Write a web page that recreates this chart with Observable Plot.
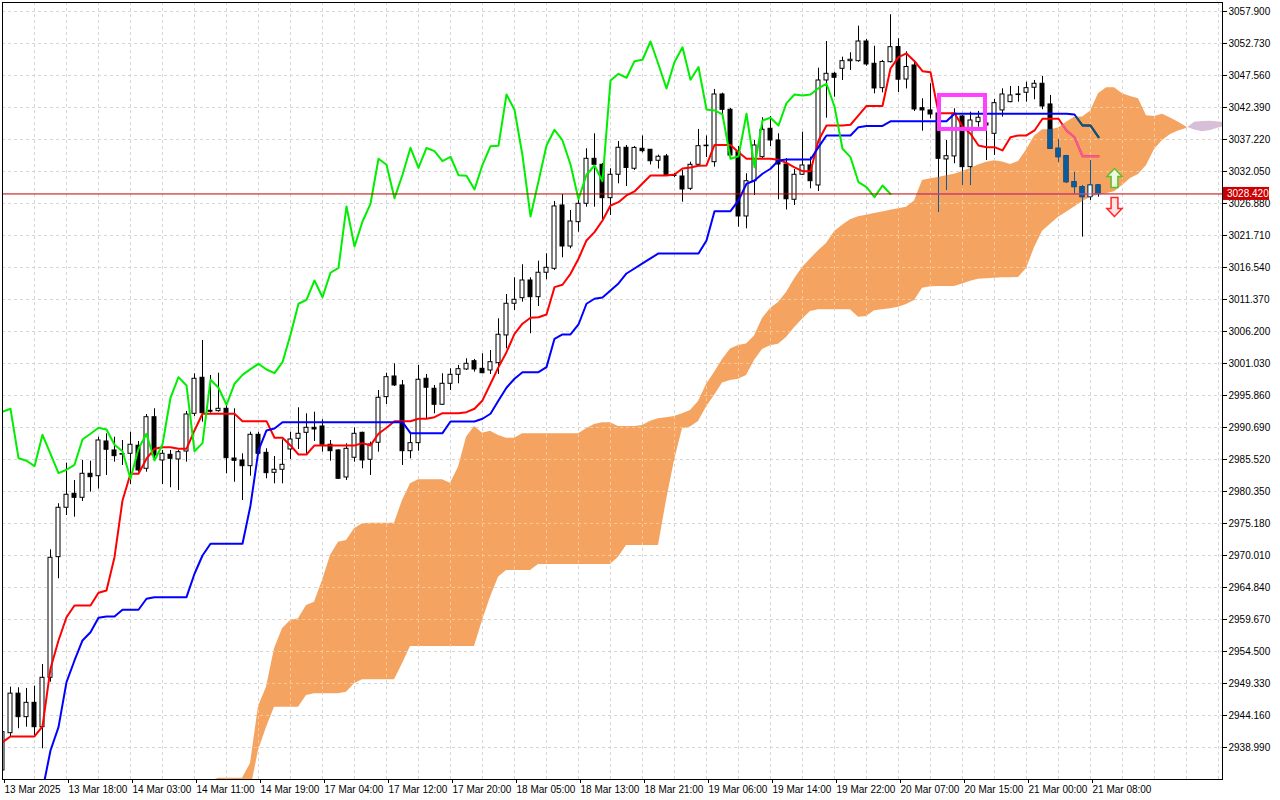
<!DOCTYPE html>
<html><head><meta charset="utf-8">
<script src="https://cdn.jsdelivr.net/npm/d3@7"></script>
<script src="https://cdn.jsdelivr.net/npm/@observablehq/plot@0.6"></script>
<style>
html,body{margin:0;padding:0;background:#fff;}
#chart{position:absolute;left:0;top:0;}
</style></head><body><div id="chart"></div>
<script>
// ---- candles (hourly bars, XAUUSD H1) ----
const openP = [2935.28,2941.30,2947.69,2943.89,2946.21,2942.27,2950.25,2969.74,2977.72,2979.98,2979.33,2983.21,2982.82,2988.43,2986.98,2986.30,2986.44,2987.74,2984.02,2992.35,2985.36,2986.28,2985.52,2986.81,2992.90,2998.72,2993.39,2993.33,2993.71,2985.68,2985.36,2984.44,2989.51,2986.60,2983.37,2983.86,2987.14,2988.86,2989.83,2990.64,2990.85,2987.90,2986.98,2982.61,2985.80,2989.83,2985.47,2988.22,2995.59,2998.93,2997.48,2986.86,2988.16,2998.56,2996.95,2994.36,2997.75,2999.20,3000.06,3001.40,3000.17,2999.90,3001.08,3005.56,3010.68,3011.58,3014.44,3011.74,3015.69,3016.33,3026.56,3019.93,3023.86,3026.83,3034.10,3033.13,3027.74,3031.52,3035.88,3032.49,3035.72,3035.56,3033.78,3034.48,3031.40,3031.24,3029.25,3033.13,3036.14,3033.55,3044.49,3042.02,3035.17,3024.78,3030.48,3034.36,3038.95,3037.06,3033.18,3027.48,3031.52,3033.02,3029.79,3046.75,3047.83,3048.64,3049.87,3049.87,3053.05,3049.45,3045.51,3049.71,3052.16,3046.91,3049.18,3042.28,3041.91,3041.42,3033.99,3034.48,3040.94,3032.75,3040.02,3039.81,3038.14,3041.91,3043.25,3044.41,3044.77,3045.58,3046.22,3042.88,3035.72,3034.52,3030.32,3029.52,3027.90,3029.79];
const highP = [2942.06,2948.74,2948.64,2948.53,2948.90,2952.40,2970.93,2978.37,2984.93,2982.13,2985.36,2985.25,2989.12,2989.67,2989.12,2988.59,2989.93,2988.43,2992.79,2993.71,2986.98,2986.98,2986.98,2993.28,2999.37,3004.75,2999.09,2999.46,2994.25,2993.71,2986.44,2989.93,2989.93,2987.25,2986.01,2988.70,2989.93,2993.87,2992.90,2993.16,2991.94,2988.59,2987.10,2988.06,2990.64,2989.93,2988.32,2996.67,2999.46,3000.98,2998.29,2989.67,3000.71,2999.26,2997.48,2999.37,3000.17,3000.71,3001.79,3001.68,3002.60,3003.13,3008.25,3012.18,3014.88,3016.98,3014.88,3017.56,3018.76,3027.21,3028.33,3025.75,3028.17,3035.72,3038.14,3033.34,3032.49,3036.90,3036.25,3036.09,3037.79,3035.60,3034.69,3034.80,3031.73,3032.21,3033.55,3038.84,3037.79,3045.30,3044.70,3042.23,3036.09,3031.68,3037.06,3040.73,3040.94,3038.14,3034.15,3032.37,3038.40,3034.36,3048.74,3053.05,3048.09,3050.52,3051.23,3055.53,3053.38,3052.29,3049.99,3057.37,3053.49,3051.39,3049.66,3043.80,3046.22,3041.91,3037.06,3042.18,3041.10,3041.63,3041.75,3041.59,3043.69,3045.41,3045.79,3045.79,3046.48,3046.75,3047.40,3044.33,3037.17,3034.64,3031.84,3029.79,3033.83,3029.85];
const lowP = [2934.96,2940.66,2942.02,2942.27,2940.93,2938.78,2949.54,2966.25,2976.47,2976.20,2978.74,2980.24,2980.75,2982.94,2985.09,2984.55,2981.48,2983.47,2983.47,2985.36,2981.48,2980.95,2980.51,2985.09,2992.47,2991.55,2993.00,2993.16,2983.21,2981.85,2978.90,2982.82,2986.17,2982.40,2981.59,2981.59,2985.52,2987.14,2986.44,2988.43,2986.70,2985.25,2982.30,2982.13,2985.09,2984.02,2982.94,2986.70,2994.41,2997.32,2984.55,2985.63,2986.86,2992.09,2992.90,2994.25,2996.67,2997.75,2999.90,2999.63,2999.37,2999.26,2999.26,3003.41,3009.59,3010.94,3005.83,3010.24,3014.55,3016.06,3018.11,3019.56,3022.24,3026.28,3026.28,3024.13,3024.94,3030.06,3029.63,3032.21,3035.04,3033.10,3032.45,3031.36,3031.08,3027.09,3028.98,3032.91,3034.31,3032.75,3040.56,3034.15,3023.05,3022.79,3028.17,3034.10,3036.09,3027.48,3025.83,3026.56,3031.40,3029.25,3028.82,3040.66,3044.05,3046.75,3048.37,3049.71,3049.06,3044.60,3044.76,3049.58,3044.81,3045.38,3041.74,3038.56,3040.56,3025.47,3028.98,3033.30,3029.79,3029.79,3039.21,3033.83,3034.64,3040.83,3043.15,3043.25,3043.25,3043.64,3042.02,3035.60,3033.56,3030.16,3028.45,3021.44,3027.37,3027.90];
const closeP = [2941.47,2947.69,2943.89,2946.21,2942.27,2950.25,2969.64,2977.72,2979.82,2979.33,2983.21,2982.66,2988.59,2987.09,2986.06,2986.40,2987.90,2983.75,2992.35,2986.17,2986.44,2985.63,2986.70,2992.79,2998.56,2993.00,2993.23,2993.71,2985.73,2985.31,2984.44,2989.51,2986.44,2983.31,2983.86,2984.66,2988.75,2989.67,2990.64,2990.37,2987.90,2986.86,2982.40,2987.25,2989.67,2985.36,2987.95,2995.49,2998.82,2997.48,2986.86,2988.16,2998.40,2997.11,2994.36,2997.75,2999.20,3000.11,3000.98,3000.06,2999.46,3001.24,3005.67,3010.68,3011.32,3014.44,3011.74,3015.69,3016.49,3026.40,3019.93,3023.97,3026.83,3034.10,3033.13,3027.74,3031.52,3035.88,3032.62,3035.85,3035.33,3033.71,3034.43,3031.45,3031.36,3029.14,3033.13,3036.14,3036.22,3044.49,3042.02,3034.63,3024.78,3030.48,3036.25,3038.79,3037.06,3033.18,3027.56,3031.52,3033.02,3030.48,3046.75,3047.83,3047.19,3049.87,3050.10,3053.05,3049.34,3045.46,3049.74,3052.13,3046.88,3048.93,3042.07,3041.91,3041.26,3034.10,3034.52,3041.38,3032.75,3040.29,3040.73,3039.48,3043.09,3044.49,3044.33,3044.49,3045.51,3046.22,3042.55,3035.72,3034.36,3030.32,3029.52,3027.90,3029.79,3028.42];

// ---- Ichimoku lines (read per bar) ----
const tenkanSen = [2939.85,2940.77,2940.77,2940.77,2940.77,2942.39,2951.76,2956.28,2960.04,2961.94,2961.94,2961.94,2963.99,2964.36,2969.74,2978.90,2983.21,2983.21,2985.64,2987.25,2987.51,2987.51,2987.25,2987.25,2990.21,2992.91,2992.91,2992.91,2992.91,2992.91,2991.71,2991.71,2991.71,2991.71,2989.03,2989.03,2987.79,2986.33,2986.33,2987.79,2987.79,2987.79,2987.79,2987.79,2987.79,2988.16,2987.79,2989.68,2990.65,2991.71,2991.71,2991.71,2992.10,2992.10,2992.36,2993.00,2993.00,2993.00,2993.17,2993.72,2995.06,2997.75,3000.44,3002.86,3005.83,3007.45,3008.42,3008.51,3008.95,3013.36,3013.75,3015.52,3017.95,3020.91,3022.25,3024.14,3026.56,3027.09,3028.18,3028.82,3030.11,3031.41,3031.41,3031.41,3031.57,3032.54,3032.70,3032.97,3033.02,3036.33,3036.33,3036.33,3035.17,3034.11,3034.11,3034.11,3034.11,3033.94,3033.43,3032.70,3032.10,3032.10,3037.06,3039.48,3039.48,3039.48,3039.60,3041.10,3042.64,3042.64,3042.64,3048.69,3050.52,3051.12,3049.86,3048.26,3048.10,3041.47,3041.47,3041.47,3039.32,3038.14,3036.25,3035.98,3035.98,3035.45,3037.59,3037.87,3037.87,3038.68,3040.57,3040.57,3040.57,3038.68,3037.59,3034.52,3034.52,3034.52];
const kijunSen = [2929.62,2929.62,2929.62,2929.62,2929.62,2932.05,2938.51,2942.27,2949.54,2953.05,2956.28,2957.62,2959.95,2960.16,2960.16,2961.24,2961.24,2961.24,2963.02,2963.28,2963.28,2963.28,2963.28,2963.28,2967.06,2970.01,2971.90,2971.90,2971.90,2971.90,2971.90,2978.09,2986.98,2990.21,2990.53,2991.55,2991.55,2991.55,2991.55,2991.55,2991.55,2991.55,2991.55,2991.55,2991.55,2991.55,2991.55,2991.55,2991.55,2991.55,2991.55,2989.77,2989.77,2989.77,2989.77,2989.77,2991.66,2991.66,2991.66,2991.66,2992.10,2992.91,2995.06,2997.11,2998.56,2999.63,2999.63,2999.63,3000.44,3005.02,3005.72,3005.72,3007.33,3010.68,3011.49,3011.70,3012.83,3013.96,3015.57,3016.38,3017.19,3018.00,3018.81,3018.81,3018.81,3018.81,3018.81,3018.81,3020.91,3025.64,3025.64,3025.64,3027.37,3030.07,3030.60,3031.68,3032.49,3033.83,3033.99,3033.99,3033.99,3033.99,3035.98,3037.87,3037.87,3037.87,3037.87,3039.21,3039.40,3039.40,3039.40,3040.16,3040.16,3040.16,3040.16,3040.16,3040.16,3040.16,3040.16,3041.38,3041.38,3041.38,3041.38,3041.38,3041.38,3041.38,3041.38,3041.38,3041.38,3041.38,3041.38,3041.38,3041.38,3041.38,3041.26,3039.48,3039.48,3037.59];
const chikouShift = 26;

// ---- Kumo (senkou spans), first value at bar cloudStart ----
const cloudStart = 26;
const senkouA = [2933.50,2934.03,2934.03,2934.03,2934.03,2936.41,2945.62,2948.74,2954.94,2958.17,2959.51,2959.79,2961.94,2962.47,2965.98,2970.01,2972.16,2972.44,2974.33,2975.14,2975.23,2975.23,2975.23,2975.23,2978.90,2981.60,2982.24,2982.24,2982.24,2982.24,2981.70,2984.28,2989.13,2990.86,2989.77,2990.10,2989.40,2988.97,2988.97,2989.68,2989.68,2989.68,2989.68,2989.68,2989.68,2989.68,2989.68,2990.48,2991.18,2991.45,2991.45,2990.86,2990.86,2990.86,2991.02,2991.71,2992.10,2992.26,2992.47,2992.91,2993.44,2994.89,2997.64,2999.58,3001.68,3003.38,3003.94,3004.17,3005.48,3008.30,3009.92,3010.89,3012.50,3014.69,3016.54,3017.92,3019.24,3020.42,3022.31,3023.38,3024.27,3024.73,3024.99,3025.25,3025.51,3025.78,3026.03,3026.29,3027.27,3030.60,3030.87,3031.08,3031.36,3031.62,3032.05,3032.54,3033.09,3033.54,3033.78,3033.59,3033.18,3033.67,3035.53,3037.76,3038.79,3038.79,3039.08,3040.02,3040.83,3040.87,3041.80,3044.61,3045.59,3045.59,3044.59,3044.17,3043.81,3041.05,3040.92,3041.28,3040.71,3040.00,3039.24,3038.76,3038.47,3038.68,3039.08,3039.32];
const senkouB = [2932.05,2932.05,2932.05,2932.05,2932.05,2932.05,2938.51,2942.23,2945.51,2945.51,2945.51,2945.51,2947.40,2947.67,2947.67,2947.67,2947.67,2947.93,2949.29,2949.93,2949.93,2949.93,2949.93,2949.93,2952.52,2955.31,2955.31,2955.31,2955.31,2955.31,2955.31,2955.31,2955.31,2955.31,2959.51,2963.28,2966.51,2967.59,2967.59,2967.59,2967.59,2968.56,2968.56,2968.56,2968.56,2968.56,2968.56,2968.56,2968.56,2968.56,2968.56,2969.74,2971.63,2971.63,2971.63,2971.63,2971.63,2978.90,2985.36,2990.48,2990.77,2991.66,2994.01,2995.86,2997.88,2998.29,2998.50,2999.09,3001.52,3003.30,3003.89,3004.15,3005.23,3006.82,3008.19,3009.43,3009.71,3009.71,3009.71,3009.71,3009.71,3008.48,3008.63,3009.56,3009.71,3009.87,3010.13,3010.57,3011.20,3013.20,3013.44,3013.47,3013.47,3013.47,3013.86,3014.31,3014.62,3014.72,3014.80,3014.88,3014.88,3014.93,3016.38,3019.71,3022.39,3023.54,3024.67,3025.46,3026.30,3027.22,3027.85,3028.27,3028.47,3028.77,3029.79,3030.92,3031.57,3033.02,3035.61,3037.06,3038.03,3038.60,3039.00,3040.00,3040.13,3040.18,3040.05,3039.97];
const bullishUntil = 148;

// ---- axes ----
const xTickIdx = [0,8,16,24,32,40,48,56,64,72,80,88,96,104,112,120,128,136];
const xTickLabels = ["13 Mar 2025","13 Mar 18:00","14 Mar 03:00","14 Mar 11:00","14 Mar 19:00","17 Mar 04:00","17 Mar 12:00","17 Mar 20:00","18 Mar 05:00","18 Mar 13:00","18 Mar 21:00","19 Mar 06:00","19 Mar 14:00","19 Mar 22:00","20 Mar 07:00","20 Mar 15:00","21 Mar 00:00","21 Mar 08:00"];
const yTicks = [3057.900,3052.730,3047.560,3042.390,3037.220,3032.050,3026.880,3021.710,3016.540,3011.370,3006.200,3001.030,2995.860,2990.690,2985.520,2980.350,2975.180,2970.010,2964.840,2959.670,2954.500,2949.330,2944.160,2938.990];
const lastPrice = 3028.420;

// ---- annotations ----
const zoneIdx = [117.125, 122.875];
const zonePrice = [3044.33, 3038.84];
const arrowIdx = [139, 139];
const arrowPrice = [3031.0, 3026.3];
const arrowDir = ["up", "down"];

// ---- tables ----
const candles = openP.map((o, i) => ({i, o, h: highP[i], l: lowP[i], c: closeP[i]}));
const tenkanRows = tenkanSen.map((v, i) => ({i, v}));
const kijunRows = kijunSen.map((v, i) => ({i, v}));
const chikouRows = closeP.slice(chikouShift).map((v, k) => ({i: k, v}));
const cloud = senkouA.map((a, k) => ({i: cloudStart + k, a, b: senkouB[k]}));
const cloudBull = cloud.filter(d => d.i <= bullishUntil);
const cloudBear = cloud.filter(d => d.i >= bullishUntil);
const zone = [{x1: zoneIdx[0], x2: zoneIdx[1], y1: zonePrice[0], y2: zonePrice[1]}];
const arrows = arrowIdx.map((x, k) => ({x, y: arrowPrice[k], dir: arrowDir[k]}));
const labelMap = new Map(xTickIdx.map((d, k) => [d, xTickLabels[k]]));

const bodyTop = d => Math.abs(d.o - d.c) < 0.1 ? (d.o + d.c) / 2 + 0.05 : Math.max(d.o, d.c);
const bodyBot = d => Math.abs(d.o - d.c) < 0.1 ? (d.o + d.c) / 2 - 0.05 : Math.min(d.o, d.c);
const gridX = d3.range(4, 153, 4);

// hollow arrow symbols
function arrowSymbol(sign) {
  return {draw(ctx, size) {
    const s = Math.sqrt(size / Math.PI);
    const w = 0.8 * s, t = 0.36 * s, n = -0.15 * s;
    ctx.moveTo(0, -sign * s);
    ctx.lineTo(w, sign * n);
    ctx.lineTo(t, sign * n);
    ctx.lineTo(t, sign * s);
    ctx.lineTo(-t, sign * s);
    ctx.lineTo(-t, sign * n);
    ctx.lineTo(-w, sign * n);
    ctx.closePath();
  }};
}
const upSym = arrowSymbol(1), downSym = arrowSymbol(-1);

const IN = "incloud";
function candleMarks(color, tag) {
  const extra = tag ? {ariaDescription: tag} : {clip: true};
  return [
    Plot.ruleX(candles, {x: "i", y1: "l", y2: "h", stroke: color, strokeWidth: 1, ...extra}),
    Plot.rect(candles, {x1: d => d.i - 0.25, x2: d => d.i + 0.25, y1: bodyBot, y2: bodyTop,
      fill: d => d.c < d.o ? color : "white", stroke: color, strokeWidth: 1, ...extra})
  ];
}

const chart = Plot.plot({
  width: 1280, height: 800,
  marginLeft: 2, marginRight: 58, marginTop: 2, marginBottom: 21,
  style: {fontFamily: "'Liberation Sans', Arial, sans-serif", fontSize: "10px", background: "white", color: "black"},
  x: {type: "linear", domain: [0, 152.5]},
  y: {type: "linear", domain: [2933.82, 3059.35]},
  marks: [
    Plot.frame({fill: "white", stroke: "none"}),
    Plot.ruleX(gridX, {stroke: "#d6d6d6", strokeDasharray: "3,3"}),
    Plot.ruleY(yTicks, {stroke: "#d6d6d6", strokeDasharray: "3,3"}),
    Plot.areaY(cloudBull, {x: "i", y1: "a", y2: "b", fill: "#f4a460", clip: true, ariaDescription: "kumo-bull"}),
    Plot.areaY(cloudBear, {x: "i", y1: "a", y2: "b", fill: "#d8bfd8", clip: true}),
    Plot.ruleX(gridX, {stroke: "#f8c898", strokeDasharray: "3,3", ariaDescription: IN}),
    Plot.ruleY(yTicks, {stroke: "#f8c898", strokeDasharray: "3,3", ariaDescription: IN}),
    ...candleMarks("black", null),
    Plot.line(tenkanRows, {x: "i", y: "v", stroke: "#ff0000", strokeWidth: 2, clip: true}),
    Plot.line(kijunRows, {x: "i", y: "v", stroke: "#0000ff", strokeWidth: 2, clip: true}),
    Plot.line(chikouRows, {x: "i", y: "v", stroke: "#00ee00", strokeWidth: 2, clip: true}),
    Plot.ruleY([lastPrice], {stroke: "#c00000", strokeWidth: 1}),
    // the same marks again, in the colours they take inside the kumo (clipped to it below)
    ...candleMarks("#0b5b9f", IN),
    Plot.line(tenkanRows, {x: "i", y: "v", stroke: "#f45b9f", strokeWidth: 2, ariaDescription: IN}),
    Plot.line(kijunRows, {x: "i", y: "v", stroke: "#0b5b60", strokeWidth: 2, ariaDescription: IN}),
    Plot.line(chikouRows, {x: "i", y: "v", stroke: "#0ba49f", strokeWidth: 2, ariaDescription: IN}),
    Plot.ruleY([lastPrice], {stroke: "#cb5b9f", strokeWidth: 1, ariaDescription: IN}),
    Plot.rect(zone, {x1: "x1", x2: "x2", y1: "y1", y2: "y2", fill: "none", stroke: "#ff40ff", strokeWidth: 4}),
    Plot.dot(arrows.filter(d => d.dir === "up"), {x: "x", y: "y", symbol: upSym, r: 9.5, fill: "#eef8e4", stroke: "#58c22a", strokeWidth: 1.5}),
    Plot.dot(arrows.filter(d => d.dir === "down"), {x: "x", y: "y", symbol: downSym, r: 9.5, fill: "#ffe4e4", stroke: "#ff2a2a", strokeWidth: 1.5}),
    Plot.frame({stroke: "black"}),
    Plot.axisY(yTicks, {anchor: "right", tickSize: 4, tickPadding: 2, tickFormat: d => d.toFixed(3), label: null, fontSize: 10}),
    Plot.axisX(xTickIdx, {anchor: "bottom", tickSize: 4, tickPadding: 2, tickFormat: d => labelMap.get(d), textAnchor: "start", dx: 2, label: null, fontSize: 10})
  ]
});

// clip the "inside the kumo" copies to the kumo shape drawn by Plot
const svg = d3.select(chart);
const kumoPath = svg.select('[aria-description="kumo-bull"] path');
const inGroups = svg.selectAll(`[aria-description="${IN}"]`);
if (!kumoPath.empty() && kumoPath.attr("d")) {
  const defs = svg.insert("defs", ":first-child");
  defs.append("clipPath").attr("id", "kumoClip").attr("clipPathUnits", "userSpaceOnUse")
    .append("path").attr("d", kumoPath.attr("d"));
  inGroups.each(function () {
    const wrap = document.createElementNS("http://www.w3.org/2000/svg", "g");
    wrap.setAttribute("clip-path", "url(#kumoClip)");
    this.parentNode.insertBefore(wrap, this);
    wrap.appendChild(this);
  });
} else {
  inGroups.remove();
}
// current price tag on the price axis
const yPx = chart.scale("y").apply(lastPrice);
const tag = svg.append("g").attr("text-anchor", "start");
tag.append("rect").attr("x", 1223).attr("y", yPx - 6.5).attr("width", 46).attr("height", 13).attr("fill", "#cc0000");
tag.append("text").attr("x", 1227).attr("y", yPx + 3.5).attr("fill", "white").attr("font-size", 10).text(lastPrice.toFixed(3));
document.getElementById("chart").appendChild(chart);
</script></body></html>
